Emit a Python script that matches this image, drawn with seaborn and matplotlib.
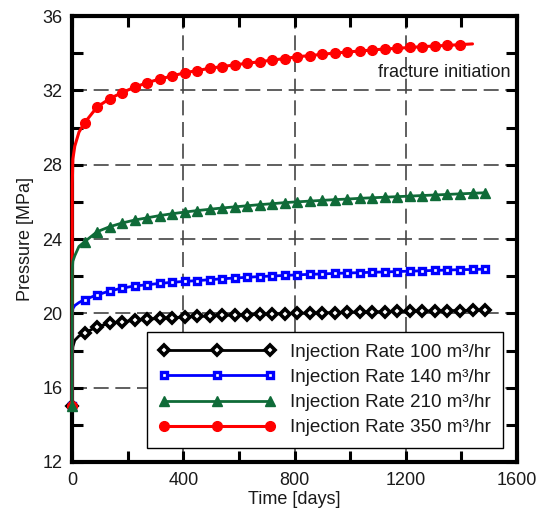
import matplotlib
matplotlib.use("Agg")
import matplotlib.pyplot as plt
from matplotlib.lines import Line2D
from matplotlib.ticker import MultipleLocator
import numpy as np
import pandas as pd
import seaborn as sns

# Simulation output: bottom-hole pressure vs. time for four injection rates
time_days = [0, 1, 3, 10, 25,
             45, 90, 135, 180, 225, 270, 315, 360, 405, 450, 495, 540,
             585, 630, 675, 720, 765, 810, 855, 900, 945, 990, 1035, 1080,
             1125, 1170, 1215, 1260, 1305, 1350, 1395, 1440, 1485]

p_rate100 = [15.0, 17.6, 18.2, 18.55, 18.78,
             18.94, 19.28, 19.46, 19.55, 19.62, 19.68, 19.73, 19.76, 19.80,
             19.83, 19.86, 19.89, 19.91, 19.93, 19.95, 19.97, 19.98, 20.00,
             20.01, 20.03, 20.04, 20.05, 20.07, 20.08, 20.09, 20.10, 20.11,
             20.12, 20.13, 20.14, 20.15, 20.16, 20.17]

p_rate140 = [15.0, 19.9, 20.25, 20.42, 20.58,
             20.74, 20.99, 21.20, 21.36, 21.47, 21.54, 21.61, 21.67, 21.72,
             21.76, 21.81, 21.86, 21.90, 21.94, 21.98, 22.01, 22.04, 22.07,
             22.10, 22.12, 22.15, 22.17, 22.19, 22.21, 22.23, 22.25, 22.27,
             22.29, 22.31, 22.33, 22.35, 22.36, 22.38]

p_rate210 = [15.0, 22.3, 22.8, 23.1, 23.6,
             23.85, 24.39, 24.66, 24.86, 25.02, 25.14, 25.26, 25.36, 25.45,
             25.53, 25.60, 25.67, 25.73, 25.79, 25.85, 25.90, 25.96, 26.00,
             26.04, 26.08, 26.12, 26.15, 26.19, 26.22, 26.25, 26.28, 26.31,
             26.34, 26.37, 26.40, 26.43, 26.46, 26.49]

# The 350 m3/hr run stops once the fracture initiates
time_days_350 = [0, 1, 3, 10, 25,
                 45, 90, 135, 180, 225, 270, 315, 360, 405, 450, 495, 540,
                 585, 630, 675, 720, 765, 810, 855, 900, 945, 990, 1035,
                 1080, 1125, 1170, 1215, 1260, 1305, 1350, 1395, 1440]

p_rate350 = [15.0, 27.0, 28.3, 29.0, 29.75,
             30.25, 31.10, 31.55, 31.88, 32.17, 32.41, 32.61, 32.77, 32.95,
             33.06, 33.19, 33.28, 33.37, 33.46, 33.54, 33.63, 33.71, 33.81,
             33.87, 33.94, 34.01, 34.06, 34.12, 34.17, 34.23, 34.26, 34.31,
             34.35, 34.39, 34.42, 34.46, 34.50]

labels = ["Injection Rate 100 m³/hr", "Injection Rate 140 m³/hr",
          "Injection Rate 210 m³/hr", "Injection Rate 350 m³/hr"]
x_ticks = [0, 400, 800, 1200, 1600]
y_ticks = [12, 16, 20, 24, 28, 32, 36]

sns.set_theme(style="ticks")
plt.rcParams["font.family"] = ["Liberation Sans", "DejaVu Sans"]
plt.rcParams["axes.linewidth"] = 3.0

fig = plt.figure(figsize=(5.39, 5.17), dpi=100)
ax = fig.add_axes([0.1336, 0.1064, 0.8256, 0.8626])

green = "#0f6b38"
styles = [
    dict(color="black", marker="D", markersize=5.2, markerfacecolor="white",
         markeredgecolor="black", markeredgewidth=2.6, linewidth=2.0),
    dict(color="#0000ff", marker="s", markersize=4.8, markerfacecolor="white",
         markeredgecolor="#0000ff", markeredgewidth=2.4, linewidth=2.0),
    dict(color=green, marker="^", markersize=7.5, markerfacecolor=green,
         markeredgecolor=green, markeredgewidth=1.0, linewidth=2.0),
    dict(color="#ff0000", marker="o", markersize=7.0, markerfacecolor="#ff0000",
         markeredgecolor="#ff0000", markeredgewidth=1.0, linewidth=2.2),
]

series = [
    (time_days, p_rate100, styles[0]),
    (time_days, p_rate140, styles[1]),
    (time_days_350, p_rate350, styles[3]),
    (time_days, p_rate210, styles[2]),
]

for t, p, st in series:
    n = len(t)
    last = n - 1 if t is time_days_350 else n
    marks = [0] + list(range(5, last))
    df = pd.DataFrame({"time": t, "pressure": p})
    sns.lineplot(data=df, x="time", y="pressure", ax=ax, errorbar=None,
                 legend=False, markevery=marks, zorder=3, clip_on=False, **st)

ax.set_xlim(0, 1600)
ax.set_ylim(12, 36)
ax.set_xticks(x_ticks)
ax.set_yticks(y_ticks)
ax.xaxis.set_minor_locator(MultipleLocator(200))
ax.yaxis.set_minor_locator(MultipleLocator(2))
ax.tick_params(which="both", direction="in", top=True, right=True,
               length=8, width=2.2, color="black", labelsize=13,
               labelcolor="#1a1a1a", pad=7)
ax.grid(True, which="major", color="#444444", linewidth=1.2,
        linestyle=(0, (9, 4)), zorder=1)
ax.set_axisbelow(True)
for s in ax.spines.values():
    s.set_color("black")
    s.set_linewidth(3.0)

ax.set_xlabel("Time [days]", fontsize=13, color="#1a1a1a", labelpad=2)
ax.set_ylabel("Pressure [MPa]", fontsize=13, color="#1a1a1a", labelpad=6)

ax.text(1578, 32.72, "fracture initiation", fontsize=13, color="#1a1a1a",
        ha="right", va="baseline", zorder=4)

handles = [Line2D([], [], **styles[i]) for i in range(4)]
leg = ax.legend(handles, labels, loc="upper left",
                bbox_to_anchor=(0.1685, 0.2915), borderaxespad=0,
                fontsize=13.6, numpoints=3, handlelength=6.2,
                handletextpad=0.75, labelspacing=0.42, borderpad=0.62,
                fancybox=False, framealpha=1, edgecolor="black")
leg.get_frame().set_linewidth(1.0)
for txt in leg.get_texts():
    txt.set_color("#1a1a1a")

fig.savefig("out.png", dpi=100)
